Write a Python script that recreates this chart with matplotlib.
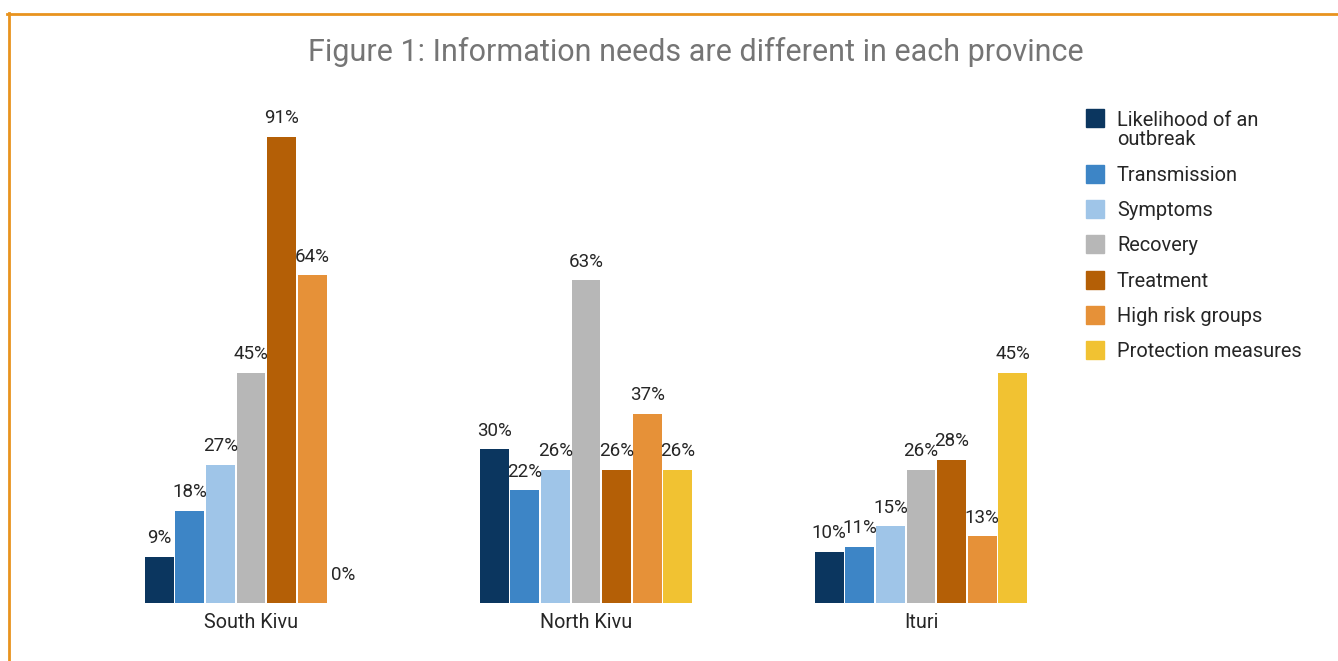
import matplotlib.pyplot as plt
from matplotlib.patches import Rectangle
from matplotlib.lines import Line2D

plt.rcParams['font.family'] = ['Roboto', 'DejaVu Sans']

# data
provinces = ["South Kivu", "North Kivu", "Ituri"]
series = ["Likelihood of an\noutbreak", "Transmission", "Symptoms", "Recovery",
          "Treatment", "High risk groups", "Protection measures"]
colors = ["#0b365f", "#3d85c6", "#9fc5e8", "#b7b7b7", "#b45f06", "#e69138", "#f1c232"]
values = [
    [9, 30, 10],    # Likelihood of an outbreak
    [18, 22, 11],   # Transmission
    [27, 26, 15],   # Symptoms
    [45, 63, 26],   # Recovery
    [91, 26, 28],   # Treatment
    [64, 37, 13],   # High risk groups
    [0, 26, 45],    # Protection measures
]

W, H = 1338, 661
fig = plt.figure(figsize=(W / 100, H / 100), dpi=100)
ax = fig.add_axes([100 / W, 58 / H, 960 / W, 503 / H])

pitch = 0.0913
width = 0.086
x = range(len(provinces))
for i, (name, col, vals) in enumerate(zip(series, colors, values)):
    xs = [g + (i - 3) * pitch for g in x]
    ax.bar(xs, vals, width=width, color=col, linewidth=0)
    for xi, v in zip(xs, vals):
        # zero values get their label lifted a little higher, as in the original
        off = 16.5 if v == 0 else 9.8
        ax.annotate(f"{v}%", (xi, v), xytext=(0, off), textcoords="offset points",
                    ha="center", va="baseline", fontsize=13.5, color="#262626")

ax.set_xlim(-0.4507, 2.4149)
ax.set_ylim(0, 98.24)
ax.set_xticks(list(x))
ax.set_xticklabels(provinces, fontsize=14.2, color="#262626")
ax.tick_params(axis="x", length=0, pad=7.5)
ax.set_yticks([])
for s in ax.spines.values():
    s.set_visible(False)

# title
fig.text(696 / W, 1 - 52 / H, "Figure 1: Information needs are different in each province",
         ha="center", va="center", fontsize=22, color="#757575")

# legend drawn by hand so the square sits on the first line of a two-line label
rows_y = [118, 174, 209, 244, 280, 315, 350]
for name, col, yc in zip(series, colors, rows_y):
    fig.patches.append(Rectangle((1086 / W, 1 - (yc + 9) / H), 18 / W, 18 / H,
                                 transform=fig.transFigure, color=col))
    extra = 20 * name.count("\n")  # baseline of a multi-line text is its last line
    fig.text(1117 / W, 1 - (yc + 7 + extra) / H, name, ha="left", va="baseline",
             fontsize=14.4, color="#262626", linespacing=1.0)

# orange frame (top and left edges)
fig.add_artist(Line2D([7 / W, 1], [1 - 13.5 / H] * 2, transform=fig.transFigure,
                      color="#e8931e", linewidth=2.0))
fig.add_artist(Line2D([8.5 / W] * 2, [1 - 12.5 / H, 0], transform=fig.transFigure,
                      color="#e8931e", linewidth=2.0))

fig.savefig("out.png", dpi=100)
